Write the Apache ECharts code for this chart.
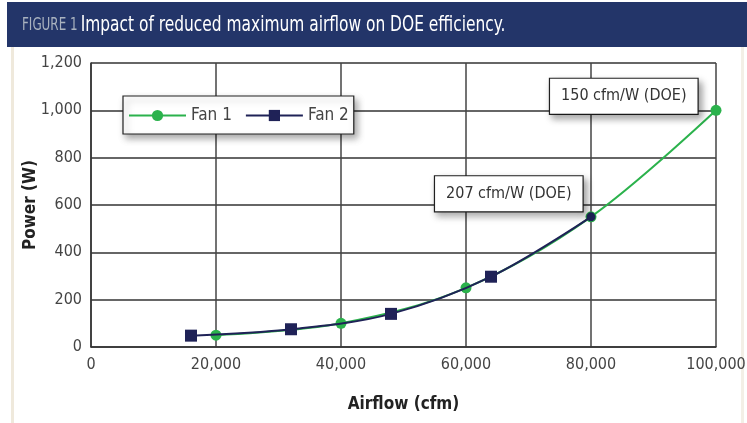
<!DOCTYPE html>
<html>
<head>
<meta charset="utf-8">
<script src="https://cdn.jsdelivr.net/npm/echarts@6/dist/echarts.min.js"></script>
<style>
  html, body { margin: 0; padding: 0; background: #fff; }
  #chart { width: 747px; height: 423px; }
</style>
</head>
<body>
<div id="chart"></div>
<script>
var fan1Airflow = [20000, 40000, 60000, 80000, 100000];
var fan1Power = [50, 100, 250, 550, 1000];
var fan2Airflow = [16000, 32000, 48000, 64000, 80000];
var fan2Power = [48, 75, 140, 297, 550];
var yTicks = [0, 200, 400, 600, 800, 1000, 1200];
var xTicks = [0, 20000, 40000, 60000, 80000, 100000];
var noteHigh = '150 cfm/W (DOE)';
var noteLow = '207 cfm/W (DOE)';

var FONT = '"DejaVu Sans Condensed", "Liberation Sans Narrow", sans-serif';
var GREEN = '#2bb24c';
var NAVY = '#1f2257';

function pairs(xs, ys) {
    return xs.map(function(x, i) { return [x, ys[i]]; });
}

var boxLabel = {
    show: true,
    position: 'left',
    color: '#333',
    fontFamily: FONT,
    fontSize: 16,
    backgroundColor: '#fff',
    borderColor: '#222',
    borderWidth: 1.2,
    padding: [10, 11, 9, 11],
    shadowBlur: 7,
    shadowOffsetX: 3,
    shadowOffsetY: 4,
    shadowColor: 'rgba(0,0,0,0.35)'
};

var fan1Data = pairs(fan1Airflow, fan1Power);
fan1Data[4] = {
    value: fan1Data[4],
    label: Object.assign({}, boxLabel, { formatter: noteHigh, distance: 13, offset: [0, -14] })
};
var fan2Data = pairs(fan2Airflow, fan2Power);
fan2Data[4] = {
    value: fan2Data[4],
    symbol: 'circle',
    symbolSize: 9,
    label: Object.assign({}, boxLabel, { formatter: noteLow, distance: 4, offset: [0, -23] })
};

var chart = echarts.init(document.getElementById('chart'));

var option = {
    backgroundColor: '#fff',
    animation: false,
    graphic: [
        { type: 'rect', z: -1, shape: { x: 7, y: 2, width: 740, height: 45 }, style: { fill: '#233569' } },
        { type: 'rect', z: -1, shape: { x: 11, y: 47, width: 3, height: 376 }, style: { fill: '#efe9dc' } },
        { type: 'rect', z: -1, shape: { x: 741, y: 47, width: 3, height: 376 }, style: { fill: '#f3efe6' } },
        {
            type: 'text', x: 22, y: 25, scaleX: 0.78,
            style: {
                text: '{a|FIGURE 1}{b|Impact of reduced maximum airflow on DOE efficiency.}',
                verticalAlign: 'middle',
                rich: {
                    a: { fill: '#a9b2bf', fontSize: 17, fontFamily: FONT, padding: [2, 4, 0, 0] },
                    b: { fill: '#fff', fontSize: 22, fontFamily: FONT }
                }
            }
        }
    ],
    grid: { left: 91, right: 31, top: 63, bottom: 76, outerBoundsMode: 'none' },
    legend: {
        orient: 'horizontal',
        left: 123,
        top: 96,
        backgroundColor: '#fff',
        borderColor: '#222',
        borderWidth: 1.2,
        padding: [11, 5, 10, 5],
        itemWidth: 57,
        itemHeight: 14,
        itemGap: 13,
        shadowBlur: 7,
        shadowOffsetX: 3,
        shadowOffsetY: 4,
        shadowColor: 'rgba(0,0,0,0.35)',
        textStyle: { fontFamily: FONT, fontSize: 17, color: '#444' },
        data: ['Fan 1', 'Fan 2']
    },
    xAxis: {
        type: 'value',
        min: xTicks[0],
        max: xTicks[xTicks.length - 1],
        interval: 20000,
        name: 'Airflow (cfm)',
        nameLocation: 'middle',
        nameGap: 49,
        nameMoveOverlap: false,
        nameTextStyle: { fontFamily: FONT, fontSize: 17, color: '#222', fontWeight: 'bold' },
        axisLine: { lineStyle: { color: '#333', width: 1.5 } },
        axisTick: { show: false },
        axisLabel: {
            margin: 10,
            fontFamily: FONT, fontSize: 16, color: '#444',
            formatter: function(v) { return v.toLocaleString('en-US'); }
        },
        splitLine: { show: true, lineStyle: { color: '#444', width: 1.5 } }
    },
    yAxis: {
        type: 'value',
        min: yTicks[0],
        max: yTicks[yTicks.length - 1],
        interval: 200,
        name: 'Power (W)',
        nameLocation: 'middle',
        nameGap: 52,
        nameMoveOverlap: false,
        nameTextStyle: { fontFamily: FONT, fontSize: 17, color: '#222', fontWeight: 'bold' },
        axisLine: { show: true, lineStyle: { color: '#333', width: 1.5 } },
        axisTick: { show: false },
        axisLabel: {
            margin: 9,
            fontFamily: FONT, fontSize: 16, color: '#444',
            formatter: function(v) { return v.toLocaleString('en-US'); }
        },
        splitLine: { show: true, lineStyle: { color: '#333', width: 1.5 } }
    },
    series: [
        {
            name: 'Fan 1',
            type: 'line',
            smooth: 0.35,
            symbol: 'circle',
            symbolSize: 11,
            itemStyle: { color: GREEN },
            lineStyle: { color: GREEN, width: 2 },
            data: fan1Data,
            z: 3
        },
        {
            name: 'Fan 2',
            type: 'line',
            smooth: 0.35,
            symbol: 'rect',
            symbolSize: 12,
            itemStyle: { color: NAVY },
            lineStyle: { color: NAVY, width: 2 },
            data: fan2Data,
            z: 4
        }
    ]
};

chart.setOption(option);
</script>
</body>
</html>
